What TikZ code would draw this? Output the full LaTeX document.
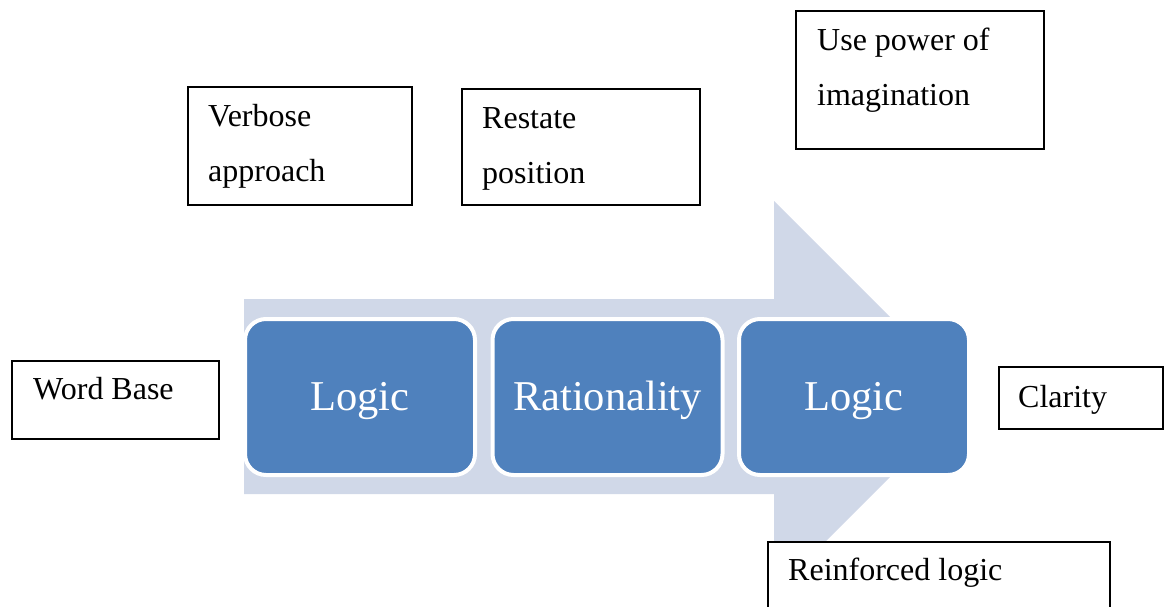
\documentclass[tikz,border=0pt]{standalone}
\usepackage{fontspec}
\setmainfont{Liberation Serif}
\definecolor{arrowfill}{RGB}{208,216,232}
\definecolor{boxblue}{RGB}{79,129,189}
\begin{document}
\begin{tikzpicture}[x=1pt,y=-1pt,
  lbl/.style={draw=black,line width=1.8pt,fill=white,anchor=north west,inner sep=0pt},
  txt/.style={anchor=base west,inner sep=0pt,font=\fontsize{32}{38}\selectfont},
  stage/.style={fill=boxblue,draw=white,line width=4pt,rounded corners=21pt,
    minimum width=230pt,minimum height=156pt,text=white,inner sep=0pt,
    text height=36pt,text depth=10pt,font=\fontsize{42.5}{50}\selectfont}]
\useasboundingbox (0,0) rectangle (1168,606);
\clip (0,0) rectangle (1168,606);
% big process arrow
\fill[arrowfill] (244,299) -- (774,299) -- (774,201) -- (970,397) -- (774,593)
  -- (774,494) -- (244,494) -- cycle;
% stages
\node[stage] (s1) at (360,397) {Logic};
\node[stage] (s2) at (607.5,397) {Rationality};
\node[stage] (s3) at (854,397) {Logic};
% label boxes
\node[lbl,minimum width=207pt,minimum height=78pt] (wb) at (11,360) {};
\node[txt] (wbt) at (33,399) {Word Base};
\node[lbl,minimum width=224pt,minimum height=118pt] (vb) at (187,86) {};
\node[txt] (vbt1) at (208,126) {Verbose};
\node[txt] (vbt2) at (208,181) {approach};
\node[lbl,minimum width=238pt,minimum height=116pt] (rs) at (461,88) {};
\node[txt] (rst1) at (482,128) {Restate};
\node[txt] (rst2) at (482,183) {position};
\node[lbl,minimum width=248pt,minimum height=138pt] (up) at (795,10) {};
\node[txt] (upt1) at (817,50) {Use power of};
\node[txt] (upt2) at (817,105) {imagination};
\node[lbl,minimum width=164pt,minimum height=62pt] (cl) at (998,366) {};
\node[txt] (clt) at (1018,407) {Clarity};
\node[lbl,minimum width=342pt,minimum height=90pt] (rl) at (767,541) {};
\node[txt] (rlt) at (788,580) {Reinforced logic};
\end{tikzpicture}
\end{document}
